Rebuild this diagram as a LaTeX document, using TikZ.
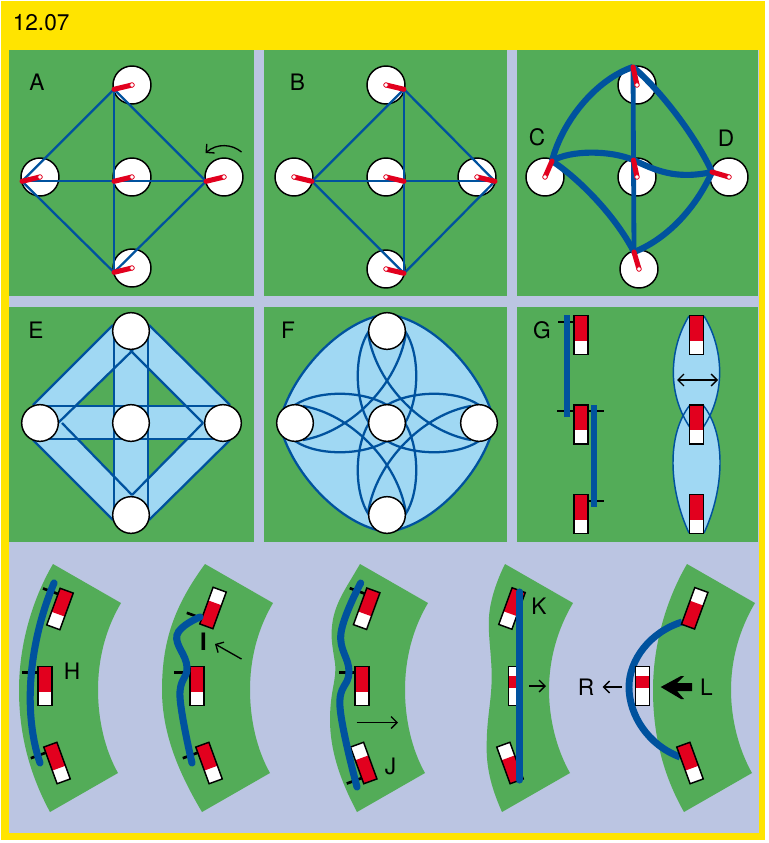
\documentclass[tikz,border=0pt]{standalone}
\usepackage{fontspec}
\setmainfont{TeX Gyre Heros}
\usetikzlibrary{arrows.meta}
\definecolor{framey}{RGB}{255,228,0}
\definecolor{lav}{RGB}{187,197,226}
\definecolor{padgreen}{RGB}{83,172,88}
\definecolor{rodblue}{RGB}{0,82,158}
\definecolor{skyfill}{RGB}{160,216,243}
\definecolor{armred}{RGB}{226,0,30}
\tikzset{
wheel/.style={circle,draw=black,fill=white,line width=1.1pt,inner sep=0,minimum size=28.5pt},
hub/.style={circle,draw=armred,fill=white,line width=.5pt,inner sep=0,minimum size=3.4pt},
arm/.style={armred,line width=3.8pt,line cap=round},
rod/.style={rodblue,line width=1.7pt},
fatrod/.style={rodblue,line width=4.6pt},
bendrod/.style={rodblue,line width=5.3pt,line cap=round},
bandline/.style={rodblue,line width=1.7pt},
lbl/.style={font=\fontsize{17}{18}\selectfont,inner sep=0},
tick/.style={black,line width=2pt},
thin arrow/.style={black,line width=1pt,-{Straight Barb[length=4.5pt,width=9pt]}},
}
% lever box: x, y, turn, red from, red to
\newcommand{\lever}[5]{
\begin{scope}[shift={(#1,#2)},rotate=#3]
\fill[white] (-7,-19.5) rectangle (7,19.5);
\fill[armred] (-7,#4) rectangle (7,#5);
\draw[black,line width=1.1pt] (-7,-19.5) rectangle (7,19.5);
\end{scope}}
% tick beside a lever: x, y, turn, place along the box
\newcommand{\levertick}[4]{
\begin{scope}[shift={(#1,#2)},rotate=#3]
\draw[tick] (-23,#4) -- (-7,#4);
\end{scope}}
\begin{document}
\begin{tikzpicture}[x=.75pt,y=-.75pt]
\useasboundingbox (0,0) rectangle (768,843);
\fill[framey] (1,1) rectangle (765,840);
\fill[lav] (8.5,50) rectangle (759,833);
\foreach \xa/\xb in {8.5/254,264/507,517/758}{
\fill[padgreen] (\xa,50) rectangle (\xb,296);
\fill[padgreen] (\xa,307) rectangle (\xb,542);
}
\node[lbl,anchor=west] (title) at (12.5,23) {12.07};

% A and B
\foreach \name/\px/\py/\off in {a1/132/85/-18,a2/40/177/-18,a3/132/177/-18,a4/224/177/-18,a5/132/268/-18,b1/386/85/18,b2/294/177/18,b3/386/177/18,b4/477/177/18,b5/386/269/18}{
\node[wheel] (\name) at (\px,\py) {};
\coordinate (\name j) at (\px+\off,\py+4.3);
}
\foreach \from/\to in {a1j/a2j,a1j/a4j,a1j/a5j,a2j/a4j,a2j/a5j,a4j/a5j,b1j/b2j,b1j/b4j,b1j/b5j,b2j/b4j,b2j/b5j,b4j/b5j}
\draw[rod] (\from) -- (\to);
\foreach \name in {a1,a2,a3,a4,a5,b1,b2,b3,b4,b5}{
\draw[arm] (\name.center) -- (\name j);
\node[hub] (\name h) at (\name.center) {};
}
\node[lbl] (labA) at (37,82) {A};
\node[lbl] (labB) at (297.5,82) {B};
\coordinate (turnA) at (241.5,152);
\coordinate (turnB) at (205.5,153);
\draw[thin arrow] (turnA) .. controls (232,144) and (217,143) .. (turnB);

% C and D
\foreach \name/\px/\py/\jx/\jy in {c1/637/85/633/67,c2/545/177/552/161,c3/637/177/633.5/160,c4/729/177/712/172,c5/639/269/634/252}{
\node[wheel] (\name) at (\px,\py) {};
\coordinate (\name j) at (\jx,\jy);
}
\draw[fatrod,line width=3.6pt] (c1j) -- (c5j);
\draw[fatrod] (c2j) .. controls (562,122) and (595,80) .. (c1j);
\draw[fatrod] (c1j) .. controls (660,90) and (695,135) .. (c4j);
\draw[fatrod] (c2j) .. controls (578,178) and (615,215) .. (c5j);
\draw[fatrod] (c4j) .. controls (695,210) and (665,240) .. (c5j);
\draw[fatrod] (c2j) .. controls (570,150) and (610,150) .. (c3j) .. controls (655,170) and (675,180) .. (c4j);
\foreach \name in {c1,c2,c3,c4,c5}{
\draw[arm] (\name.center) -- (\name j);
\node[hub] (\name h) at (\name.center) {};
}
\node[lbl] (labC) at (537,137) {C};
\node[lbl] (labD) at (726,138) {D};

% E
\foreach \ax/\ay/\bx/\by/\cx/\cy/\dx/\dy in {33/405/113/325/133/350/58/423,230/405/149/325/130/350/203/423,33/440/113/520/132/495/62/423,230/440/149/520/132/495/203/423}{
\fill[skyfill] (\ax,\ay) -- (\bx,\by) -- (\cx,\cy) -- (\dx,\dy) -- cycle;
}
\fill[skyfill] (114,331) rectangle (148,515);
\fill[skyfill] (40,406) rectangle (223,439);
\foreach \ax/\ay/\bx/\by/\cx/\cy/\dx/\dy in {33/405/113/325/133/350/58/423,230/405/149/325/130/350/203/423,33/440/113/520/132/495/62/423,230/440/149/520/132/495/203/423}{
\draw[bandline] (\ax,\ay) -- (\bx,\by);
\draw[bandline] (\cx,\cy) -- (\dx,\dy);
}
\draw[bandline] (114,331) -- (114,515);
\draw[bandline] (148,331) -- (148,515);
\draw[bandline] (40,406) -- (223,406);
\draw[bandline] (40,439) -- (223,439);
\foreach \name/\px/\py in {e1/131/331,e2/40/423,e3/131/423,e4/223/423,e5/131/515}
\node[wheel,minimum size=27.5pt] (\name) at (\px,\py) {};
\node[lbl] (labE) at (36,330) {E};

% F
\begin{scope}[shift={(387,423)}]
\filldraw[fill=skyfill,draw=rodblue,line width=1.7pt] (-107.5,0) .. controls (-97,-48) and (-47,-103) .. (0,-109) .. controls (47,-103) and (97,-48) .. (107.5,0) .. controls (97,48) and (47,103) .. (0,109) .. controls (-47,103) and (-97,48) .. (-107.5,0) -- cycle;
\foreach \sx/\sy in {1/1,-1/1,1/-1,-1/-1}{
\begin{scope}[xscale=\sx,yscale=\sy]
\draw[bandline] (19,-90) .. controls (11,-38) and (-37,9) .. (-84,17);
\draw[bandline] (-92,-18) .. controls (-70,-33) and (-25,-33) .. (0,-18);
\draw[bandline] (-18,-92) .. controls (-33,-70) and (-33,-25) .. (-18,0);
\end{scope}
}
\end{scope}
\foreach \name/\px/\py in {f1/387/331,f2/295/423,f3/387/423,f4/479/423,f5/387/515}
\node[wheel,minimum size=27.5pt] (\name) at (\px,\py) {};
\node[lbl] (labF) at (288,330) {F};

% G
\levertick{581}{335}{0}{-13}
\draw[tick] (557,411) -- (603.5,411);
\draw[tick] (588,501) -- (604,501);
\foreach \yb in {335,424.5,514}{
\lever{581}{\yb}{0}{-19.5}{5.5}
}
\draw[fatrod] (567,315) -- (567,417);
\draw[fatrod] (594,405) -- (594,507);
\fill[skyfill] (689,316) .. controls (668,350) and (664,405) .. (703,443) -- (690,443) .. controls (729,405) and (725,350) .. (704,316) -- cycle;
\fill[skyfill] (690,405) .. controls (666,435) and (669,490) .. (689,533) -- (704,533) .. controls (724,490) and (727,435) .. (703,405) -- cycle;
\draw[bandline,line width=1.1pt] (689,316) .. controls (668,350) and (664,405) .. (703,443);
\draw[bandline,line width=1.1pt] (704,316) .. controls (725,350) and (729,405) .. (690,443);
\draw[bandline,line width=1.1pt] (690,405) .. controls (666,435) and (669,490) .. (689,533);
\draw[bandline,line width=1.1pt] (703,405) .. controls (727,435) and (724,490) .. (704,533);
\foreach \yb in {335,424.5,514}{
\lever{696.5}{\yb}{0}{-19.5}{5.5}
}
\coordinate (widthL) at (677,380);
\coordinate (widthR) at (718,380);
\draw[thin arrow,{Straight Barb[length=4.5pt,width=9pt]}-{Straight Barb[length=4.5pt,width=9pt]}] (widthL) -- (widthR);
\node[lbl] (labG) at (542,330) {G};

% bends
\fill[padgreen] (53,564) -- (121,603) .. controls (105,630) and (98,660) .. (98,690) .. controls (98,720) and (105,750) .. (118,773) -- (50,812) .. controls (30,775) and (19,735) .. (19,690) .. controls (19,645) and (32,600) .. (53,564) -- cycle;
\fill[padgreen] (205,564) -- (273,603) .. controls (257,630) and (250,660) .. (250,690) .. controls (250,720) and (257,750) .. (270,773) -- (202,812) .. controls (180,775) and (162,735) .. (162,690) .. controls (162,640) and (175,605) .. (205,564) -- cycle;
\fill[padgreen] (360,564) -- (428,603) .. controls (412,630) and (405,660) .. (405,690) .. controls (405,720) and (412,750) .. (425,773) -- (357,812) .. controls (340,780) and (330,750) .. (330,720) .. controls (330,690) and (337,680) .. (335,663) .. controls (333,650) and (331,640) .. (331.7,630) .. controls (333,605) and (345,590) .. (360,564) -- cycle;
\fill[padgreen] (505,564) -- (573,603) .. controls (557,630) and (549,660) .. (549,690) .. controls (549,720) and (557,750) .. (570,773) -- (502,812) .. controls (490,785) and (486,765) .. (486.7,743) .. controls (487,715) and (492,700) .. (491.7,673) .. controls (491,650) and (488,635) .. (489,617) .. controls (490,600) and (497,580) .. (505,564) -- cycle;
\fill[padgreen] (687,564) -- (755,603) .. controls (739,630) and (731,660) .. (731,690) .. controls (731,720) and (739,750) .. (752,773) -- (684,812) .. controls (663,775) and (653,735) .. (653,690) .. controls (653,645) and (666,600) .. (687,564) -- cycle;

% H
\levertick{60}{609}{-20}{-13.5}
\levertick{45}{686}{0}{-13.5}
\levertick{57}{763}{20}{-13.5}
\lever{60}{609}{-20}{-19.5}{5.5}
\lever{45}{686}{0}{-19.5}{5.5}
\lever{57}{763}{20}{-19.5}{5.5}
\coordinate (h1) at (54,583);
\coordinate (h2) at (40,763);
\draw[bendrod] (h1) .. controls (30,640) and (22,710) .. (h2);
\node[lbl] (labH) at (72,671) {H};

% I
\levertick{213}{608}{-20}{13.5}
\levertick{197}{686}{0}{-13.5}
\levertick{209}{763}{20}{-13.5}
\lever{213}{608}{-20}{-5.5}{19.5}
\lever{197}{686}{0}{-19.5}{5.5}
\lever{209}{763}{20}{-19.5}{5.5}
\draw[bendrod] plot[smooth,tension=.7] coordinates {(200,617) (177,635) (187,667) (180,697) (192,763)};
\node[lbl,font=\fontsize{18}{18}\selectfont\bfseries] (labI) at (203.5,642) {I};
\coordinate (pushA) at (241.5,659);
\coordinate (pushB) at (215,644);
\draw[thin arrow] (pushA) -- (pushB);

% J
\levertick{366.7}{608.7}{-20}{-13.5}
\levertick{362}{686}{0}{-13.5}
\levertick{363.7}{763}{20}{13.5}
\lever{366.7}{608.7}{-20}{-19.5}{5.5}
\lever{362}{686}{0}{-19.5}{5.5}
\lever{363.7}{763}{20}{-5.5}{19.5}
\draw[bendrod] plot[smooth,tension=.7] coordinates {(360.7,583) (341,633) (349,672) (340,707) (357,787)};
\coordinate (moveA) at (356.5,722.5);
\coordinate (moveB) at (398,722.5);
\draw[thin arrow] (moveA) -- (moveB);
\node[lbl] (labJ) at (390.5,766) {J};

% K
\lever{512}{608.5}{-20}{-19.5}{5.5}
\lever{515.3}{686}{0}{-9.7}{2}
\lever{510}{763}{20}{-5.5}{19.5}
\coordinate (k1) at (519.7,592);
\coordinate (k2) at (519.7,780);
\draw[bendrod] (k1) -- (k2);
\node[lbl] (labK) at (539,606) {K};
\coordinate (kA) at (529,686);
\coordinate (kB) at (546,686);
\draw[thin arrow] (kA) -- (kB);

% L and R
\coordinate (l1) at (682,622);
\coordinate (l2) at (680,757);
\draw[fatrod,line width=5.2pt] (l1) .. controls (650,632) and (629,660) .. (629,687) .. controls (629,715) and (648,745) .. (l2);
\lever{694.7}{608.3}{-20}{-5.5}{19.5}
\lever{642.7}{686}{0}{-9.7}{2}
\lever{690}{763}{20}{-19.5}{5.5}
\coordinate (rA) at (621.7,687);
\coordinate (rB) at (602.7,687);
\draw[thin arrow] (rA) -- (rB);
\node[lbl] (labR) at (586,687) {R};
\fill[black] (660.7,687) -- (681,676) -- (684,676) -- (677,683) -- (692,683) -- (692,691) -- (677,691) -- (684,699) -- (681,699) -- cycle;
\node[lbl] (labL) at (706.5,687) {L};
\end{tikzpicture}
\end{document}
